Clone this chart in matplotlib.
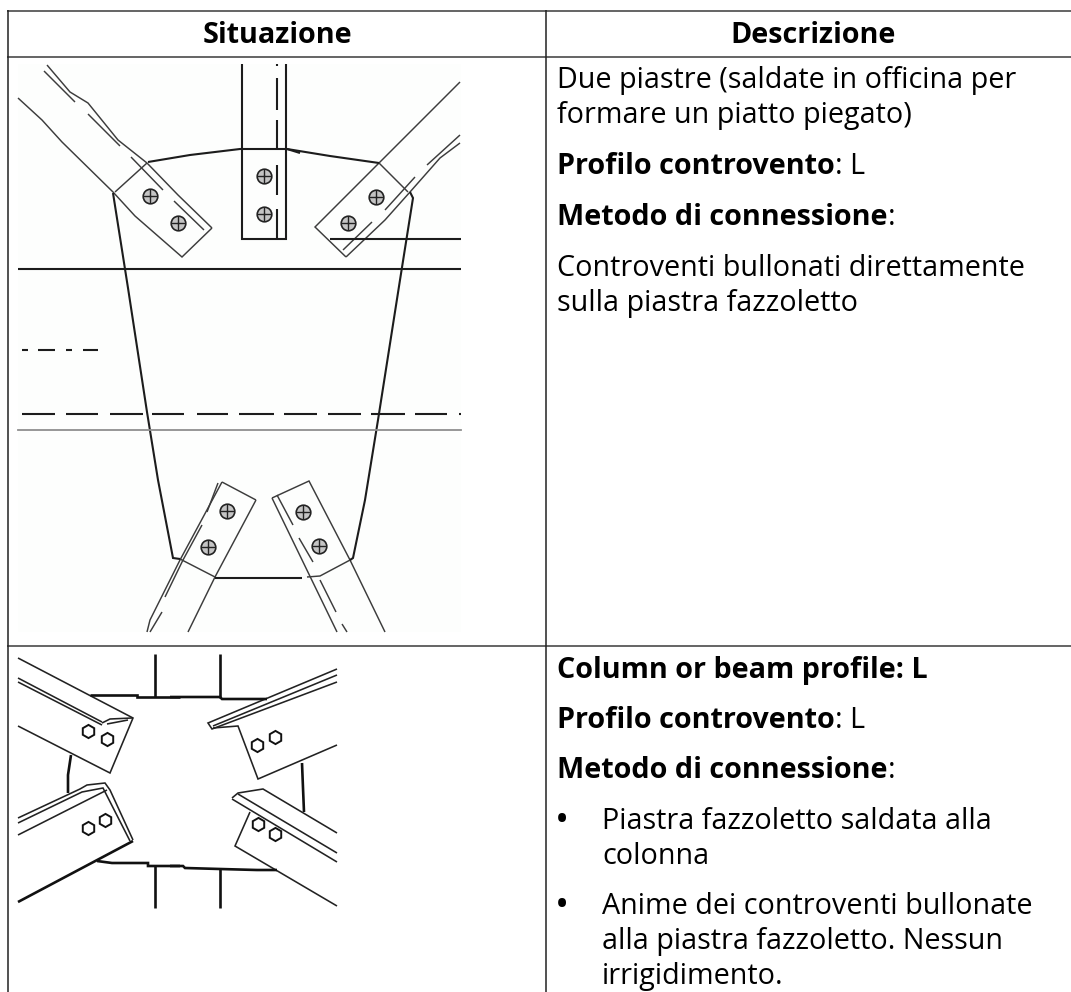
import matplotlib
matplotlib.use('Agg')
from matplotlib import pyplot as plt
from matplotlib.patches import Rectangle

W, H = 1071, 992
FONT = 'Open Sans'
FS = 20.7

# table grid, in pixels of the picture
grid_h = [(10.5, 7, 1071), (56.5, 7, 1071), (645.5, 7, 1071)]
grid_v = [(7.5, 10, 992), (545.5, 10, 992)]

# upper drawing: thin lines
top_thin = [
    [(18, 98), (42, 120), (62, 142), (113, 192), (135, 216), (182, 257), (212, 228)],
    [(47, 65), (70, 92), (88, 103), (118, 140), (147, 163), (178, 195), (212, 228)],
    [(44, 71), (75, 102)], [(88, 114), (120, 146)], [(131, 157), (163, 190)], [(174, 201), (204, 230)],
    [(115, 192), (147, 163)],
    [(460, 82), (379, 163), (315, 227), (346, 257)],
    [(460, 143), (440, 158), (410, 192), (385, 220), (346, 257)],
    [(460, 135), (427, 165)], [(415, 177), (385, 210)], [(372, 222), (343, 250)],
    [(379, 163), (408, 192)],
    [(222, 482), (180, 560), (150, 620), (147, 632)],
    [(256, 500), (215, 577), (188, 632)],
    [(222, 482), (256, 500)],
    [(218, 483), (207, 512)], [(202, 525), (183, 560), (165, 597)], [(162, 612), (150, 632)],
    [(180, 559), (215, 577)],
    [(272, 498), (309, 481), (350, 560), (385, 632)],
    [(272, 498), (337, 632)],
    [(277, 495), (293, 525)], [(299, 538), (313, 562)], [(320, 580), (336, 612)], [(342, 624), (347, 632)],
    [(307, 577), (320, 576), (352, 559)],
]

# upper drawing: heavier lines
top_thick = [
    [(148, 162), (190, 155), (240, 149), (287, 149), (300, 153)],
    [(287, 149), (330, 156), (379, 163)],
    [(242, 64), (242, 239), (286, 239), (286, 64)],
    [(277, 64), (277, 66)], [(277, 78), (277, 110)], [(277, 120), (277, 148)],
    [(277, 165), (277, 195)], [(277, 209), (277, 239)],
    [(113, 193), (128, 288), (147, 412), (158, 480), (173, 558), (180, 559)],
    [(410, 192), (413, 198), (400, 280), (378, 420), (365, 500), (353, 558), (350, 560)],
    [(330, 239), (461, 239)],
    [(18, 269), (461, 269)],
    [(215, 578), (302, 578)],
    [(22, 350), (28, 350)], [(38, 350), (55, 350)], [(66, 350), (72, 350)], [(83, 350), (98, 350)],
]

# long dashes on the axis line, start and end x
dash_y = 414
dash_x = [(22, 55), (66, 98), (110, 143), (152, 184), (197, 228), (239, 274),
          (284, 317), (328, 361), (371, 405), (415, 447), (459, 461)]

grey_y = 430
grey_x = (18, 461)

top_bolts_x = [150, 178, 264, 264, 376, 348, 227, 208, 303, 319]
top_bolts_y = [196, 223, 176, 214, 197, 223, 511, 547, 512, 546]

# lower drawing
low_thin = [
    [(18, 658), (133, 718), (110, 773), (18, 726)],
    [(18, 678), (102, 722)], [(18, 682), (102, 725)],
    [(102, 723), (110, 719), (132, 718)], [(107, 724), (128, 720)],
    [(18, 818), (80, 789), (87, 785), (105, 783), (110, 790), (133, 840)],
    [(18, 823), (82, 792), (103, 788), (130, 841)],
    [(18, 835), (107, 790)],
    [(337, 669), (208, 723), (212, 729), (337, 682)],
    [(337, 675), (213, 726)],
    [(213, 728), (238, 726), (258, 779), (337, 745)],
    [(232, 798), (238, 793), (263, 789), (337, 833)],
    [(232, 799), (337, 862)], [(238, 794), (337, 853)],
    [(250, 812), (235, 846), (337, 906)],
]

low_thick = [
    [(90, 695), (137, 695), (137, 697), (180, 697)],
    [(155, 654), (155, 697)],
    [(71, 755), (68, 775), (68, 793)],
    [(18, 902), (133, 841)],
    [(97, 861), (112, 863), (148, 863), (148, 866), (180, 866)],
    [(155, 866), (155, 908)],
    [(170, 697), (220, 697), (222, 699), (267, 699)],
    [(220, 654), (220, 698)],
    [(302, 763), (303, 788), (304, 812)],
    [(170, 866), (183, 866), (185, 868), (220, 869), (257, 870), (277, 870)],
    [(220, 869), (220, 908)],
]

low_bolts_x = [88, 107, 88, 105, 257, 275, 258, 275]
low_bolts_y = [731, 739, 828, 820, 745, 737, 824, 834]

# text: (x, baseline y, bold part, regular part)
header_labels = [(277, 43, 'Situazione'), (813, 43, 'Descrizione')]
text_rows = [
    (557, 88, '', 'Due piastre (saldate in officina per'),
    (557, 123, '', 'formare un piatto piegato)'),
    (557, 174, 'Profilo controvento', ': L'),
    (557, 225, 'Metodo di connessione', ':'),
    (557, 276, '', 'Controventi bullonati direttamente'),
    (557, 311, '', 'sulla piastra fazzoletto'),
    (557, 678, 'Column or beam profile: L', ''),
    (557, 728, 'Profilo controvento', ': L'),
    (557, 778, 'Metodo di connessione', ':'),
    (602, 829, '', 'Piastra fazzoletto saldata alla'),
    (602, 864, '', 'colonna'),
    (602, 914, '', 'Anime dei controventi bullonate'),
    (602, 949, '', 'alla piastra fazzoletto. Nessun'),
    (602, 984, '', 'irrigidimento.'),
]
bullet_y = [832, 917]


def draw_lines(ax, lines, width, color):
    for line in lines:
        xs = [p[0] for p in line]
        ys = [p[1] for p in line]
        ax.plot(xs, ys, color=color, lw=width, solid_capstyle='butt', solid_joinstyle='miter')


fig = plt.figure(figsize=(W / 100, H / 100), dpi=100)
ax = fig.add_axes([0, 0, 1, 1])
ax.set_xlim(0, W)
ax.set_ylim(H, 0)
ax.axis('off')

ax.add_patch(Rectangle((18, 64), 443, 568, facecolor='#fdfefd', edgecolor='none', zorder=0))

for y, x0, x1 in grid_h:
    ax.plot([x0, x1], [y, y], color='#3a3a3a', lw=1.1, solid_capstyle='butt')
for x, y0, y1 in grid_v:
    ax.plot([x, x], [y0, y1], color='#222222', lw=1.1, solid_capstyle='butt')

draw_lines(ax, top_thin, 1.05, '#3c3c3c')
draw_lines(ax, top_thick, 1.5, '#1c1c1c')
for x0, x1 in dash_x:
    ax.plot([x0, x1], [dash_y, dash_y], color='#1c1c1c', lw=1.5, solid_capstyle='butt')
ax.plot(grey_x, [grey_y, grey_y], color='#8f8f8f', lw=1.3)

# bolts: ring with a cross inside
ax.plot(top_bolts_x, top_bolts_y, 'o', ms=10.5, mfc='#c4c4c4', mec='#222222', mew=1.2, ls='none')
ax.plot(top_bolts_x, top_bolts_y, '+', ms=10.5, color='#222222', mew=1.0, ls='none')

draw_lines(ax, low_thin, 1.15, '#222222')
draw_lines(ax, low_thick, 1.9, '#111111')
ax.plot(low_bolts_x, low_bolts_y, 'h', ms=9.5, mfc='white', mec='#111111', mew=1.4, ls='none')

for x, y, label in header_labels:
    ax.text(x, y, label, family=FONT, fontsize=FS, fontweight='bold', ha='center', va='baseline', color='black')

fig.canvas.draw()
rend = fig.canvas.get_renderer()
for x, y, bold, plain in text_rows:
    x_next = x
    if bold:
        t = ax.text(x, y, bold, family=FONT, fontsize=FS, fontweight='bold', va='baseline', color='black')
        x_next = t.get_window_extent(rend).x1 + 0.5
    if plain:
        ax.text(x_next, y, plain, family=FONT, fontsize=FS, va='baseline', color='black')

for y in bullet_y:
    ax.text(562, y, '•', family=FONT, fontsize=27, ha='center', va='baseline', color='black')

fig.savefig('out.png', dpi=100)
